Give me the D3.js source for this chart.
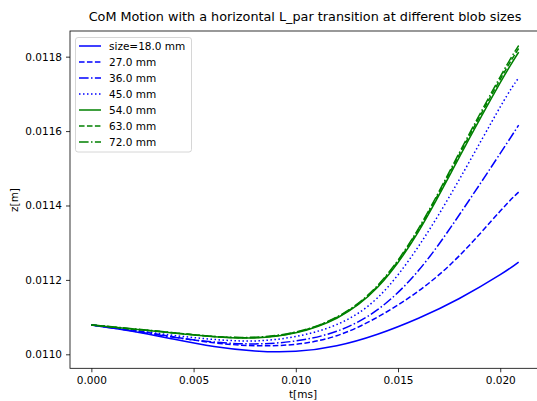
<!DOCTYPE html>
<html><head><meta charset="utf-8">
<script src="https://cdn.jsdelivr.net/npm/d3@7"></script>
<style>body{margin:0;background:#fff}svg{display:block;font-family:"DejaVu Sans",sans-serif}</style>
</head><body><svg id="c" width="537" height="401"></svg>
<script>
const tValues = [0, 0.002, 0.004, 0.006, 0.008, 0.010, 0.012, 0.014, 0.016, 0.018, 0.020, 0.0209];
const seriesLabels = ["size=18.0 mm", "27.0 mm", "36.0 mm", "45.0 mm", "54.0 mm", "63.0 mm", "72.0 mm"];
const z18 = [0.011079, 0.011062, 0.011041, 0.011021, 0.011009, 0.011008, 0.011023, 0.011054, 0.011097, 0.011150, 0.011214, 0.011248];
const z27 = [0.011079, 0.011065, 0.011047, 0.011031, 0.011023, 0.011027, 0.011050, 0.011100, 0.011170, 0.011265, 0.011385, 0.011436];
const z36 = [0.011079, 0.011063, 0.011046, 0.011033, 0.011028, 0.011036, 0.011062, 0.011120, 0.011225, 0.011375, 0.011540, 0.011616];
const z45 = [0.011079, 0.011065, 0.011051, 0.011040, 0.011036, 0.011048, 0.011080, 0.011152, 0.011290, 0.011470, 0.011665, 0.011743];
const z54 = [0.011079, 0.011068, 0.011057, 0.011047, 0.011044, 0.011058, 0.011097, 0.011180, 0.011330, 0.011530, 0.011730, 0.011812];
const z63 = [0.011079, 0.011068, 0.011058, 0.011048, 0.011045, 0.011059, 0.011099, 0.011183, 0.011335, 0.011537, 0.011739, 0.011822];
const z72 = [0.011079, 0.011069, 0.011058, 0.011048, 0.011046, 0.011060, 0.011100, 0.011185, 0.011338, 0.011542, 0.011746, 0.011830];
const xTicks = [0, 0.005, 0.010, 0.015, 0.020];
const xTickLabels = ["0.000", "0.005", "0.010", "0.015", "0.020"];
const yTicks = [0.0110, 0.0112, 0.0114, 0.0116, 0.0118];
const yTickLabels = ["0.0110", "0.0112", "0.0114", "0.0116", "0.0118"];
const seriesColors = ["#0000ff","#0000ff","#0000ff","#0000ff","#008000","#008000","#008000"];
const lw = 1.5;
const dashes = [null, [5.55, 2.4], [9.6, 2.4, 1.5, 2.4], [1.5, 2.5], null, [5.55, 2.4], [9.6, 2.4, 1.5, 2.4]];
const seriesData = [z18, z27, z36, z45, z54, z63, z72];

const svg = d3.select("#c");
const L = 70, R = 540, T = 31, B = 368.3;
const x = d3.scaleLinear().domain([-0.001045, 0.021945]).range([L, R]);
const y = d3.scaleLinear().domain([0.0109624, 0.011869]).range([B, T]);

const g = svg.append("g");
const line = d3.line().x((d,i)=>x(tValues[i])).y(d=>y(d)).curve(d3.curveNatural);
seriesData.forEach((s,k)=>{
  g.append("path").attr("d", line(s)).attr("fill","none")
   .attr("stroke", seriesColors[k]).attr("stroke-width", lw)
   .attr("stroke-dasharray", dashes[k] ? dashes[k].join(",") : null);
});

const xa = svg.append("g").attr("transform", `translate(0,${B})`)
  .call(d3.axisBottom(x).tickValues(xTicks).tickFormat((d,i)=>xTickLabels[i]).tickSizeOuter(0).tickSize(4).tickPadding(4));
const ya = svg.append("g").attr("transform", `translate(${L},0)`)
  .call(d3.axisLeft(y).tickValues(yTicks).tickFormat((d,i)=>yTickLabels[i]).tickSizeOuter(0).tickSize(4).tickPadding(4));
[xa, ya].forEach(a=>{
  a.selectAll("text").attr("font-size","10.5px").attr("fill","#000").attr("font-family","DejaVu Sans");
  a.selectAll("line").attr("stroke","#000").attr("stroke-width",0.8);
  a.select(".domain").remove();
});
svg.append("rect").attr("x",L).attr("y",T).attr("width",R-L).attr("height",B-T)
  .attr("fill","none").attr("stroke","#000").attr("stroke-width",0.8);

svg.append("text").attr("x",(L+R)/2).attr("y",21).attr("text-anchor","middle")
  .attr("font-size","12.8px").text("CoM Motion with a horizontal L_par transition at different blob sizes");
svg.append("text").attr("x",303).attr("y",398).attr("text-anchor","middle")
  .attr("font-size","10.5px").text("t[ms]");
svg.append("text").attr("transform","translate(18,200) rotate(-90)").attr("text-anchor","middle")
  .attr("font-size","10.5px").text("z[m]");

const lg = svg.append("g");
lg.append("rect").attr("x",75.5).attr("y",37.5).attr("width",116).attr("height",114.5)
  .attr("rx",2.5).attr("fill","#fff").attr("fill-opacity",0.8).attr("stroke","#ccc").attr("stroke-width",0.8);
seriesLabels.forEach((lab,k)=>{
  const yy = 46 + k*16;
  lg.append("line").attr("x1",79).attr("x2",101).attr("y1",yy).attr("y2",yy)
    .attr("stroke",seriesColors[k]).attr("stroke-width",lw)
    .attr("stroke-dasharray", dashes[k] ? dashes[k].join(",") : null);
  lg.append("text").attr("x",109).attr("y",yy+4).attr("font-size","10.5px").text(lab);
});
</script></body></html>
